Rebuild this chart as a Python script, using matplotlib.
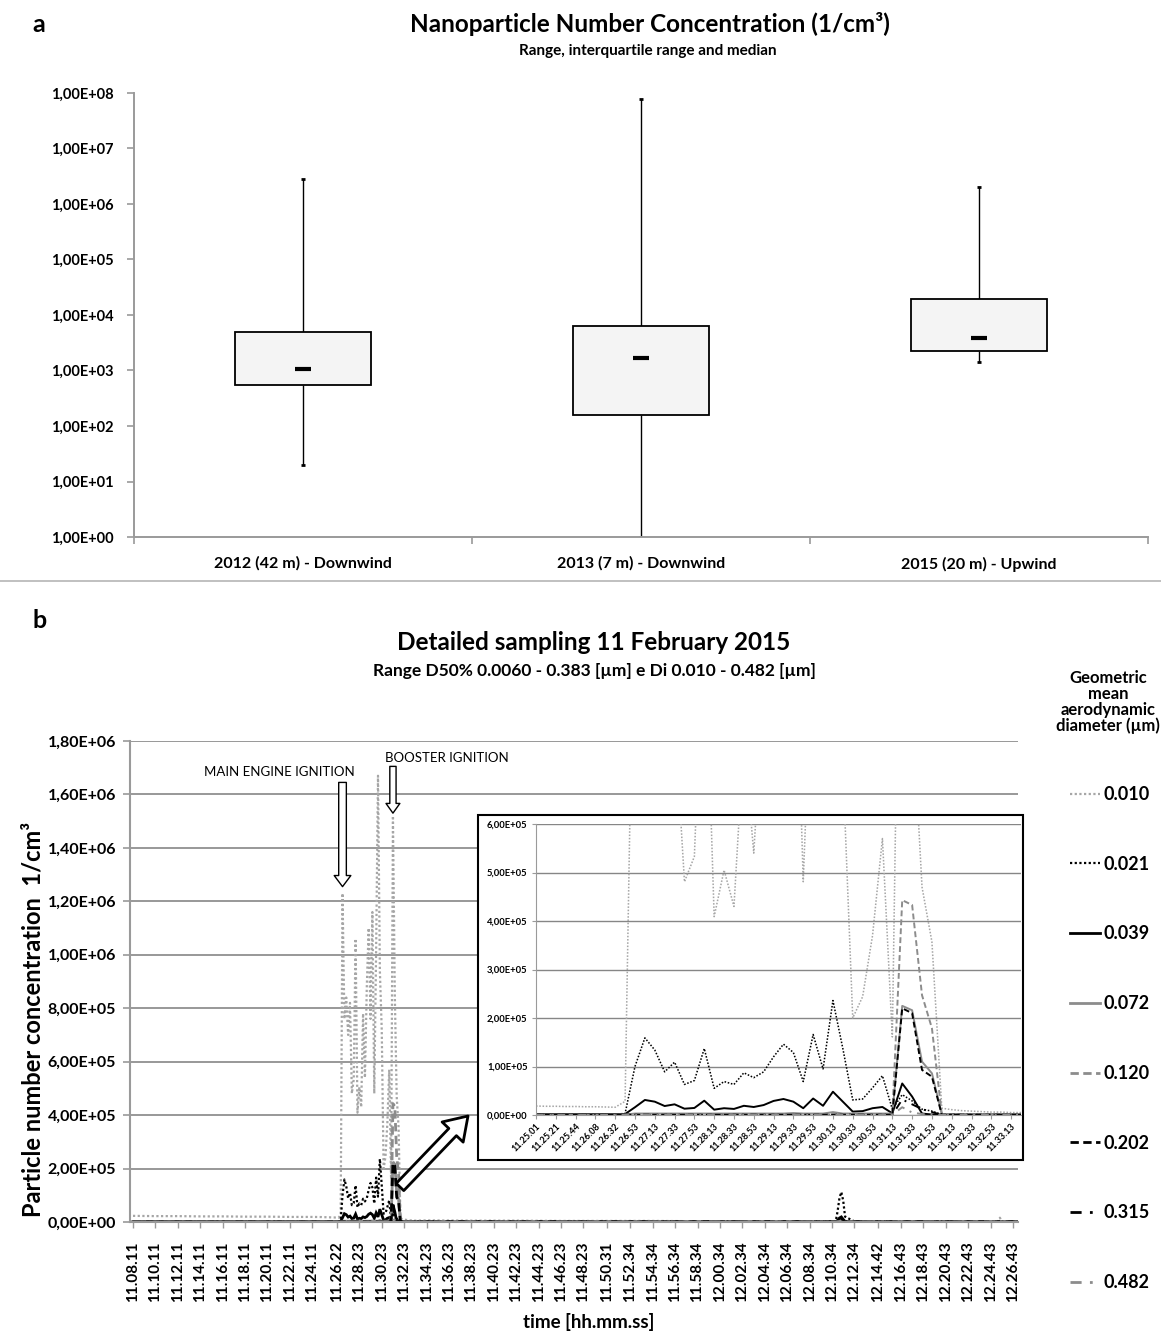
import matplotlib
matplotlib.use("Agg")
import matplotlib.pyplot as plt
import numpy as np
from matplotlib.lines import Line2D
from matplotlib.patches import FancyArrowPatch, Rectangle, ArrowStyle
from matplotlib.ticker import FixedLocator, FuncFormatter, NullLocator

plt.rcParams["font.family"] = ["Lato", "DejaVu Sans"]
plt.rcParams["font.weight"] = "bold"

W, H = 1161, 1333

# ---------------- panel a: range / IQR / median per campaign
SITES = ["2012 (42 m) - Downwind", "2013 (7 m) - Downwind", "2015 (20 m) - Upwind"]
BOX_MIN = [19.5, 1.0, 1.44e3]
BOX_Q1 = [5.5e2, 1.59e2, 2.27e3]
BOX_MED = [1.05e3, 1.69e3, 3.86e3]
BOX_Q3 = [4.87e3, 6.3e3, 1.96e4]
BOX_MAX = [2.82e6, 7.9e7, 2.0e6]

# ---------------- panel b: 11 February 2015 sampling
SIZES = ["0.010", "0.021", "0.039", "0.072", "0.120", "0.202", "0.315", "0.482"]

MAIN_TICKS = ["11.08.11", "11.10.11", "11.12.11", "11.14.11", "11.16.11", "11.18.11",
              "11.20.11", "11.22.11", "11.24.11", "11.26.22", "11.28.23", "11.30.23",
              "11.32.23", "11.34.23", "11.36.23", "11.38.23", "11.40.23", "11.42.23",
              "11.44.23", "11.46.23", "11.48.23", "11.50.31", "11.52.34", "11.54.34",
              "11.56.34", "11.58.34", "12.00.34", "12.02.34", "12.04.34", "12.06.34",
              "12.08.34", "12.10.34", "12.12.34", "12.14.42", "12.16.43", "12.18.43",
              "12.20.43", "12.22.43", "12.24.43", "12.26.43"]

# background samples outside the detailed window
BG_T = ["11.08.11", "11.10.11", "11.12.11", "11.14.11", "11.16.11", "11.18.11",
        "11.20.11", "11.22.11", "11.24.11",
        "11.34.23", "11.38.23", "11.42.23", "11.46.23", "11.50.31", "11.54.34",
        "11.58.34", "12.02.34", "12.06.34", "12.10.34", "12.10.54", "12.11.04",
        "12.11.14", "12.11.24", "12.11.34", "12.11.44", "12.12.34", "12.16.43",
        "12.20.43", "12.24.43", "12.25.23", "12.25.33", "12.25.43", "12.26.43",
        "12.27.13"]
BG_010 = [2.3e4, 2.2e4, 2.2e4, 2.1e4, 2.1e4, 2.0e4, 2.0e4, 1.9e4, 1.9e4,
          6e3, 5e3, 5e3, 4e3, 4e3, 4e3, 3e3, 3e3, 3e3, 3e3, 3e3, 5e3,
          8e3, 1.0e4, 6e3, 3e3, 3e3, 3e3, 3e3, 3e3, 3e3, 1.6e4, 3e3, 3e3, 3e3]
BG_021 = [3e3, 3e3, 3e3, 3e3, 3e3, 3e3, 3e3, 3e3, 3e3,
          2e3, 2e3, 2e3, 2e3, 2e3, 2e3, 2e3, 2e3, 2e3, 2e3, 3e3, 4.0e4,
          9.0e4, 1.12e5, 8.0e4, 2.0e4, 2e3, 2e3, 2e3, 2e3, 2e3, 2e3, 2e3, 2e3, 2e3]
BG_039 = [1.5e3, 1.5e3, 1.5e3, 1.5e3, 1.5e3, 1.5e3, 1.5e3, 1.5e3, 1.5e3,
          1e3, 1e3, 1e3, 1e3, 1e3, 1e3, 1e3, 1e3, 1e3, 1e3, 1e3, 6e3,
          1.5e4, 1.9e4, 1.0e4, 2e3, 1e3, 1e3, 1e3, 1e3, 1e3, 1e3, 1e3, 1e3, 1e3]
BG_072 = [5e2, 5e2, 5e2, 5e2, 5e2, 5e2, 5e2, 5e2, 5e2,
          5e2, 5e2, 5e2, 5e2, 5e2, 5e2, 5e2, 5e2, 5e2, 5e2, 5e2, 5e2,
          5e2, 5e2, 5e2, 5e2, 5e2, 5e2, 5e2, 5e2, 5e2, 5e2, 5e2, 5e2, 5e2]
BG_120 = [3e2, 3e2, 3e2, 3e2, 3e2, 3e2, 3e2, 3e2, 3e2,
          3e2, 3e2, 3e2, 3e2, 3e2, 3e2, 3e2, 3e2, 3e2, 3e2, 3e2, 3e2,
          3e2, 3e2, 3e2, 3e2, 3e2, 3e2, 3e2, 3e2, 3e2, 3e2, 3e2, 3e2, 3e2]
BG_202 = [3e2, 3e2, 3e2, 3e2, 3e2, 3e2, 3e2, 3e2, 3e2,
          3e2, 3e2, 3e2, 3e2, 3e2, 3e2, 3e2, 3e2, 3e2, 3e2, 3e2, 3e2,
          6e3, 1.4e4, 4e3, 3e2, 3e2, 3e2, 3e2, 3e2, 3e2, 3e2, 3e2, 3e2, 3e2]
BG_315 = [2e2, 2e2, 2e2, 2e2, 2e2, 2e2, 2e2, 2e2, 2e2,
          2e2, 2e2, 2e2, 2e2, 2e2, 2e2, 2e2, 2e2, 2e2, 2e2, 2e2, 2e2,
          2e2, 2e2, 2e2, 2e2, 2e2, 2e2, 2e2, 2e2, 2e2, 2e2, 2e2, 2e2, 2e2]
BG_482 = [2e2, 2e2, 2e2, 2e2, 2e2, 2e2, 2e2, 2e2, 2e2,
          2e2, 2e2, 2e2, 2e2, 2e2, 2e2, 2e2, 2e2, 2e2, 2e2, 2e2, 2e2,
          2e2, 2e2, 2e2, 2e2, 2e2, 2e2, 2e2, 2e2, 2e2, 2e2, 2e2, 2e2, 2e2]

# detailed window (inset), 10 s steps
DETAIL_T = ["11.25.01", "11.25.11", "11.25.21", "11.25.32", "11.25.44", "11.25.56",
            "11.26.08", "11.26.20", "11.26.32", "11.26.43", "11.26.53", "11.27.03",
            "11.27.13", "11.27.23", "11.27.33", "11.27.43", "11.27.53", "11.28.03",
            "11.28.13", "11.28.23", "11.28.33", "11.28.43", "11.28.53", "11.29.03",
            "11.29.13", "11.29.23", "11.29.33", "11.29.43", "11.29.53", "11.30.03",
            "11.30.13", "11.30.23", "11.30.33", "11.30.43", "11.30.53", "11.31.03",
            "11.31.13", "11.31.23", "11.31.33", "11.31.43", "11.31.53", "11.32.03",
            "11.32.13", "11.32.23", "11.32.33", "11.32.43", "11.32.53", "11.33.03",
            "11.33.13", "11.33.23"]
DET_010 = [1.85e4, 1.8e4, 1.8e4, 1.75e4, 1.75e4, 1.7e4, 1.7e4, 1.65e4, 1.6e4, 2.8e4,
           1.23e6, 7.6e5, 8.4e5, 7.0e5, 8.2e5, 4.81e5, 5.33e5, 1.06e6, 4.09e5, 5.05e5,
           4.30e5, 7.8e5, 5.40e5, 8.8e5, 1.10e6, 7.6e5, 1.16e6, 4.81e5, 1.02e6, 1.67e6,
           9.4e5, 7.2e5, 2.0e5, 2.44e5, 3.7e5, 5.7e5, 1.61e5, 1.52e6, 8.5e5, 4.7e5,
           3.57e5, 1.4e4, 1.1e4, 9e3, 8e3, 7e3, 6e3, 6e3, 5e3, 5e3]
DET_021 = [2e3, 2e3, 2e3, 2e3, 2e3, 2e3, 2e3, 2e3, 2e3, 3e3,
           1.0e5, 1.59e5, 1.34e5, 8.9e4, 1.09e5, 6.3e4, 7.1e4, 1.37e5, 5.5e4, 6.9e4,
           6.3e4, 8.7e4, 7.7e4, 8.9e4, 1.2e5, 1.46e5, 1.29e5, 6.9e4, 1.66e5, 9.5e4,
           2.36e5, 1.37e5, 3.1e4, 3.3e4, 5.6e4, 8.1e4, 1.2e4, 4.2e4, 2.9e4, 1.2e4,
           8e3, 1e3, 1e3, 1e3, 1e3, 1e3, 1e3, 1e3, 1e3, 1e3]
DET_039 = [2e3, 2e3, 2e3, 2e3, 2e3, 2e3, 2e3, 2e3, 2e3, 2e3,
           1.6e4, 3.1e4, 2.75e4, 1.85e4, 2.2e4, 1.3e4, 1.45e4, 2.95e4, 1.1e4, 1.4e4,
           1.25e4, 1.9e4, 1.65e4, 2.05e4, 2.9e4, 3.3e4, 2.75e4, 1.4e4, 3.4e4, 1.9e4,
           4.8e4, 2.75e4, 7e3, 8e3, 1.4e4, 1.65e4, 3.5e3, 6.5e4, 3.8e4, 3e3,
           1e3, 1e3, 1e3, 1e3, 1e3, 1e3, 1e3, 1e3, 1e3, 1e3]
DET_072 = [1e3, 1e3, 1e3, 1e3, 1e3, 1e3, 1e3, 1e3, 1e3, 1e3,
           3e3, 3e3, 3e3, 3e3, 3e3, 3e3, 3e3, 3e3, 3e3, 3e3,
           3e3, 3e3, 3e3, 3e3, 3e3, 3e3, 4e3, 3e3, 3e3, 3e3,
           6e3, 3e3, 3e3, 3e3, 3e3, 3e3, 3e3, 2.25e5, 2.16e5, 1.1e5,
           8.6e4, 2e3, 1e3, 1e3, 1e3, 1e3, 1e3, 1e3, 1e3, 1e3]
DET_120 = [5e2, 5e2, 5e2, 5e2, 5e2, 5e2, 5e2, 5e2, 5e2, 5e2,
           1.5e3, 1.5e3, 1.5e3, 1.5e3, 1.5e3, 1.5e3, 1.5e3, 1.5e3, 1.5e3, 1.5e3,
           1.5e3, 1.5e3, 1.5e3, 1.5e3, 1.5e3, 1.5e3, 1.5e3, 1.5e3, 1.5e3, 1.5e3,
           1.5e3, 1.5e3, 1.5e3, 1.5e3, 1.5e3, 1.5e3, 1.5e3, 4.43e5, 4.33e5, 2.47e5,
           1.79e5, 1e3, 5e2, 5e2, 5e2, 5e2, 5e2, 5e2, 5e2, 5e2]
DET_202 = [5e2, 5e2, 5e2, 5e2, 5e2, 5e2, 5e2, 5e2, 5e2, 5e2,
           5e2, 5e2, 5e2, 5e2, 5e2, 5e2, 5e2, 5e2, 5e2, 5e2,
           5e2, 5e2, 5e2, 5e2, 5e2, 5e2, 5e2, 5e2, 5e2, 5e2,
           5e2, 5e2, 5e2, 5e2, 5e2, 5e2, 5e2, 2.2e5, 2.1e5, 9.3e4,
           7.9e4, 5e2, 5e2, 5e2, 5e2, 5e2, 5e2, 5e2, 5e2, 5e2]
DET_315 = [3e2, 3e2, 3e2, 3e2, 3e2, 3e2, 3e2, 3e2, 3e2, 3e2,
           3e2, 3e2, 3e2, 3e2, 3e2, 3e2, 3e2, 3e2, 3e2, 3e2,
           3e2, 3e2, 3e2, 3e2, 3e2, 3e2, 3e2, 3e2, 3e2, 3e2,
           3e2, 3e2, 3e2, 3e2, 3e2, 3e2, 3e2, 3.2e4, 2.2e4, 1.2e4,
           6e3, 3e2, 3e2, 3e2, 3e2, 3e2, 3e2, 3e2, 3e2, 3e2]
DET_482 = [2e2, 2e2, 2e2, 2e2, 2e2, 2e2, 2e2, 2e2, 2e2, 2e2,
           2e2, 2e2, 2e2, 2e2, 2e2, 2e2, 2e2, 2e2, 2e2, 2e2,
           2e2, 2e2, 2e2, 2e2, 2e2, 2e2, 2e2, 2e2, 2e2, 2e2,
           2e2, 2e2, 2e2, 2e2, 2e2, 2e2, 2e2, 1.6e4, 5e3, 2e3,
           1e3, 2e2, 2e2, 2e2, 2e2, 2e2, 2e2, 2e2, 2e2, 2e2]

MAIN_ENGINE_T = "11.26.53"
BOOSTER_T = "11.31.23"

BG = [BG_010, BG_021, BG_039, BG_072, BG_120, BG_202, BG_315, BG_482]
DET = [DET_010, DET_021, DET_039, DET_072, DET_120, DET_202, DET_315, DET_482]

GREY = "#8c8c8c"
LIGHT = "#a6a6a6"
DOT = (0, (1, 1.1))
DASH = (0, (3, 1.6))
DASHDOT = (0, (4, 3, 1, 3))
STYLES = [dict(color=LIGHT, ls=DOT, lw=1.6),
          dict(color="black", ls=DOT, lw=1.6),
          dict(color="black", ls="-", lw=2.0),
          dict(color=GREY, ls="-", lw=2.0),
          dict(color=GREY, ls=DASH, lw=2.0),
          dict(color="black", ls=DASH, lw=2.0),
          dict(color="black", ls=DASHDOT, lw=2.0),
          dict(color=GREY, ls=DASHDOT, lw=2.0)]


def tmin(s):
    h, m, sec = (int(p) for p in s.split("."))
    return (h - 11) * 60 + m + sec / 60.0


def sci(v, _pos=None):
    return f"{v:.2E}".replace(".", ",")


def fx(px):
    return px / W


def fy(py):
    return 1 - py / H


fig = plt.figure(figsize=(W / 100, H / 100), dpi=100)
AX_GREY = "#9a9a9a"

# ================= panel a
axa = fig.add_axes([fx(134), fy(537), 1014 / W, 444 / H])
xs = np.arange(len(SITES)) + 0.5
q1 = np.array(BOX_Q1)
q3 = np.array(BOX_Q3)
axa.set_yscale("log")
axa.vlines(xs, BOX_MIN, q1, color="black", lw=1.0, zorder=1)
axa.vlines(xs, q3, BOX_MAX, color="black", lw=1.0, zorder=1)
axa.hlines(BOX_MIN, xs - 0.007, xs + 0.007, color="black", lw=2.0, zorder=1)
axa.hlines(BOX_MAX, xs - 0.007, xs + 0.007, color="black", lw=2.0, zorder=1)
axa.bar(xs, q3 - q1, bottom=q1, width=0.4, color="#f4f4f4", edgecolor="black",
        lw=1.3, zorder=2)
axa.hlines(BOX_MED, xs - 0.025, xs + 0.025, color="black", lw=3.0, zorder=3)
axa.set_xlim(0, 3)
axa.set_ylim(1, 1e8)
axa.yaxis.set_major_locator(FixedLocator(10.0 ** np.arange(0, 9)))
axa.yaxis.set_minor_locator(NullLocator())
axa.yaxis.set_major_formatter(FuncFormatter(sci))
axa.set_xticks([0, 1, 2, 3])
axa.set_xticklabels([])
axa.set_xticks(xs, minor=True)
axa.set_xticklabels(SITES, minor=True, fontsize=11.5)
axa.tick_params(axis="x", which="minor", length=0, pad=14)
axa.tick_params(axis="x", which="major", length=5, color=AX_GREY, width=1.2)
axa.tick_params(axis="y", length=5, color=AX_GREY, width=1.2, labelsize=10.5, pad=10)
for s in ("top", "right"):
    axa.spines[s].set_visible(False)
for s in ("left", "bottom"):
    axa.spines[s].set_color(AX_GREY)
    axa.spines[s].set_linewidth(1.4)

fig.text(fx(39), fy(24), "a", fontsize=18, ha="center", va="center")
fig.text(fx(650), fy(24), "Nanoparticle Number Concentration (1/cm³)",
         fontsize=17.5, ha="center", va="center")
fig.text(fx(648), fy(51), "Range, interquartile range and median",
         fontsize=11, ha="center", va="center")
fig.add_artist(Line2D([0, 1], [fy(581), fy(581)], transform=fig.transFigure,
                      color="#b5b5b5", lw=1.2))

# ================= panel b main
t_all = np.array([tmin(s) for s in BG_T + DETAIL_T])
order = np.argsort(t_all)
axb = fig.add_axes([fx(130), fy(1222), 888 / W, 481 / H])
handles = []
for bg, det, st in zip(BG, DET, STYLES):
    vals = np.array(bg + det)[order]
    (ln,) = axb.plot(t_all[order], vals, solid_joinstyle="miter", **st)
    handles.append(ln)
axb.set_xlim(tmin("11.07.55"), tmin("12.27.10"))
axb.set_ylim(0, 1.8e6)
axb.set_yticks(np.arange(0, 1.81e6, 2e5))
axb.yaxis.set_major_formatter(FuncFormatter(sci))
axb.set_xticks([tmin(s) for s in MAIN_TICKS])
axb.set_xticklabels(MAIN_TICKS, rotation=90, fontsize=11)
axb.grid(axis="y", color="#868686", lw=1.2)
axb.set_axisbelow(True)
axb.tick_params(axis="y", length=5, color=AX_GREY, width=1.2, labelsize=11.5, pad=5)
axb.tick_params(axis="x", length=4, color=AX_GREY, width=1.0, pad=10)
for s in ("top", "right"):
    axb.spines[s].set_visible(False)
for s in ("left", "bottom"):
    axb.spines[s].set_color(AX_GREY)
    axb.spines[s].set_linewidth(1.5)

# event arrows (hollow)
main_x = tmin(MAIN_ENGINE_T)
boost_x = tmin(BOOSTER_T)
axb.add_patch(FancyArrowPatch((main_x, 1.645e6), (main_x, 1.255e6),
                              arrowstyle=ArrowStyle.Simple(head_length=0.8, head_width=1.2,
                                                           tail_width=0.55),
                              mutation_scale=10, shrinkA=0, shrinkB=0,
                              facecolor="white", edgecolor="black", lw=1.0, zorder=4))
axb.add_patch(FancyArrowPatch((boost_x, 1.705e6), (boost_x, 1.53e6),
                              arrowstyle=ArrowStyle.Simple(head_length=0.7, head_width=1.0,
                                                           tail_width=0.45),
                              mutation_scale=10, shrinkA=0, shrinkB=0,
                              facecolor="white", edgecolor="black", lw=1.0, zorder=4))
axb.text(main_x - 5.6, 1.685e6, "MAIN ENGINE IGNITION", fontsize=9.5, fontweight="normal",
         ha="center", va="center")
axb.text(boost_x + 4.8, 1.735e6, "BOOSTER IGNITION", fontsize=9.5, fontweight="normal",
         ha="center", va="center")

fig.text(fx(40), fy(621), "b", fontsize=18, ha="center", va="center")
fig.text(fx(594), fy(643), "Detailed sampling 11 February 2015", fontsize=17.5,
         ha="center", va="center")
fig.text(fx(594), fy(671), "Range D50% 0.0060 - 0.383 [µm] e Di 0.010 - 0.482 [µm]",
         fontsize=12.5, ha="center", va="center")
fig.text(fx(33), fy(1019), "Particle number concentration  1/cm³", fontsize=17,
         rotation=90, ha="center", va="center")
fig.text(fx(589), fy(1322), "time [hh.mm.ss]", fontsize=13.5, ha="center", va="center")

# legend
fig.text(fx(1108), fy(702), "Geometric\nmean\naerodynamic\ndiameter (µm)", fontsize=12,
         ha="center", va="center", linespacing=1.0)
fig.legend(handles, SIZES, loc="upper left", bbox_to_anchor=(fx(1070), fy(786)),
           frameon=False, prop=dict(weight="bold", size=13), handlelength=1.66,
           handletextpad=0.17, labelspacing=2.92, borderpad=0, borderaxespad=0)

# pointer to inset
fig.add_artist(FancyArrowPatch((fx(400), fy(1187)), (fx(468), fy(1116)),
                               transform=fig.transFigure,
                               arrowstyle=ArrowStyle.Simple(head_length=1.6, head_width=2.1,
                                                            tail_width=0.75),
                               mutation_scale=10, shrinkA=0, shrinkB=0,
                               facecolor="white", edgecolor="black", lw=2.0, zorder=6))

# ================= inset
fig.add_artist(Rectangle((fx(478), fy(1160)), 545 / W, 345 / H, transform=fig.transFigure,
                         facecolor="white", edgecolor="black", lw=1.5, zorder=5))
axi = fig.add_axes([fx(536), fy(1115), 485 / W, 291 / H])
axi.set_zorder(7)
idx = np.arange(len(DETAIL_T))
for det, st in zip(DET, STYLES):
    s2 = dict(st)
    s2["lw"] = st["lw"] * 0.7
    axi.plot(idx, det, **s2)
axi.set_xlim(0, len(DETAIL_T) - 1)
axi.set_ylim(0, 6e5)
axi.set_yticks(np.arange(0, 6.01e5, 1e5))
axi.yaxis.set_major_formatter(FuncFormatter(sci))
axi.set_xticks(idx[:-1:2])
axi.set_xticklabels(DETAIL_T[:-1:2], rotation=45, ha="right", rotation_mode="anchor",
                    fontsize=6.5)
axi.grid(axis="y", color="#868686", lw=1.0)
axi.set_axisbelow(True)
axi.tick_params(axis="y", length=3, color=AX_GREY, labelsize=6.8, pad=3)
axi.tick_params(axis="x", length=3, color=AX_GREY, pad=2)
for s in ("top", "right"):
    axi.spines[s].set_visible(False)
for s in ("left", "bottom"):
    axi.spines[s].set_color(AX_GREY)

fig.savefig("out.png", dpi=100)
